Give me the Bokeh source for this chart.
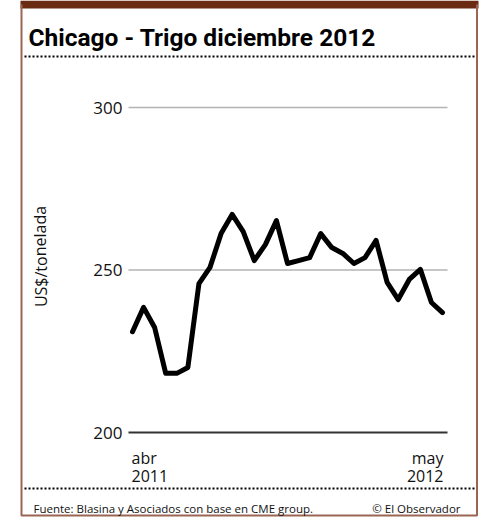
from bokeh.plotting import figure
from bokeh.models import Range1d
from bokeh.core.properties import value
from bokeh.embed import file_html
from bokeh.resources import INLINE

# ---- data ----
title_text = "Chicago - Trigo diciembre 2012"
y_label = "US$/tonelada"
source_text = "Fuente: Blasina y Asociados con base en CME group."
credit_text = "© El Observador"
x_start_label = ["abr", "2011"]
x_end_label = ["may", "2012"]
y_ticks = [200, 250, 300]
y_tick_labels = ["200", "250", "300"]
prices = [231.0, 238.5, 232.3, 218.2, 218.2, 220.0, 245.8, 250.8, 261.2, 267.1,
          261.8, 252.9, 257.8, 265.2, 252.0, 252.9, 253.8, 261.2, 256.9, 255.1,
          252.0, 253.8, 259.1, 246.2, 240.9, 247.1, 250.2, 240.0, 236.9]
period = list(range(len(prices)))

# ---- layout (page pixel coordinates) ----
W, H, OFF = 482, 518, 0
PX_LEFT, PX_RIGHT = OFF, OFF + W
PX_TOP, PX_BOT = OFF, OFF + H
Y_HI_PX, Y_LO_PX = 107, 432          # pixels of 300 and 200
X_FIRST_PX, X_LAST_PX = 132, 442     # pixels of first and last point
y_per_px = (y_ticks[-1] - y_ticks[0]) / (Y_LO_PX - Y_HI_PX)
x_per_px = (period[-1] - period[0]) / (X_LAST_PX - X_FIRST_PX)

def yval(px):
    return y_ticks[-1] - (px - Y_HI_PX) * y_per_px

def xval(px):
    return period[0] + (px - X_FIRST_PX) * x_per_px

p = figure(width=W, height=H, x_range=Range1d(PX_LEFT, PX_RIGHT),
           y_range=Range1d(PX_BOT, PX_TOP),
           output_backend="svg", toolbar_location=None,
           x_axis_location=None, y_axis_location=None, min_border=0)
p.extra_x_ranges = {"dx": Range1d(xval(PX_LEFT), xval(PX_RIGHT))}
p.extra_y_ranges = {"dy": Range1d(yval(PX_BOT), yval(PX_TOP))}
p.grid.visible = False
p.outline_line_color = None
p.background_fill_color = "white"
p.border_fill_color = "white"

FONT = value("Open Sans")
BORDER = "#9a6652"
INK = "#111111"

# frame decorations
p.quad(left=[20], right=[478], top=[0], bottom=[8], fill_color="#6b2a12", line_color=None)
p.line(x=[21, 21, 476.5, 476.5], y=[4, 515, 515, 4], line_color=BORDER, line_width=2)
p.segment(x0=[24, 24], x1=[474, 474], y0=[56, 488], y1=[56, 488],
          line_color="black", line_width=2, line_dash="2 2")

# title & footer
p.text(x=[28], y=[37], text=[title_text], text_font=value("Roboto"), text_font_style="bold",
       text_font_size="24.5px", text_color="black", text_baseline="alphabetic")
p.text(x=[33], y=[508], text=[source_text], text_font=FONT, text_font_size="11.5px",
       text_color=INK, text_baseline="alphabetic")
p.text(x=[460], y=[508], text=[credit_text], text_font=FONT, text_font_size="11.5px",
       text_color=INK, text_baseline="alphabetic", text_align="right")

# y axis label
p.text(x=[40], y=[256], text=[y_label], angle=1.5708, text_font=FONT, text_font_size="16px",
       text_color=INK, text_align="center", text_baseline="middle")

# grid lines
grid_colors = ["#333333" if t == y_ticks[0] else "#b3b3b3" for t in y_ticks]
grid_widths = [2 if t == y_ticks[0] else 1.5 for t in y_ticks]
p.segment(x0=[128] * len(y_ticks), x1=[447] * len(y_ticks), y0=y_ticks, y1=y_ticks,
          y_range_name="dy", line_color=grid_colors, line_width=grid_widths)
p.text(x=[122] * len(y_ticks), y=y_ticks, text=y_tick_labels, y_range_name="dy",
       text_font=FONT, text_font_size="17px", text_color=INK,
       text_align="right", text_baseline="middle")

# x labels (two lines each)
p.text(x=[131, 131], y=[457, 475], text=x_start_label, text_font=FONT, text_font_size="16px",
       text_color=INK, text_align="left", text_baseline="alphabetic")
p.text(x=[443, 443], y=[457, 475], text=x_end_label, text_font=FONT, text_font_size="16px",
       text_color=INK, text_align="right", text_baseline="alphabetic")

# data
p.line(x=period, y=prices, x_range_name="dx", y_range_name="dy",
       line_color="black", line_width=5, line_join="round", line_cap="round")

open("out.html", "w").write(file_html(p, INLINE))
